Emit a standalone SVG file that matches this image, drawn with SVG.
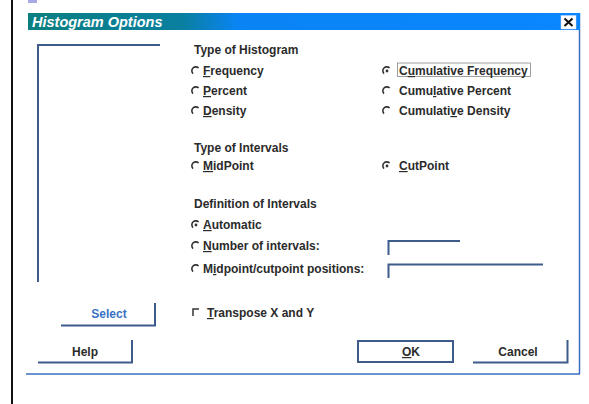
<svg xmlns="http://www.w3.org/2000/svg" width="589" height="404" viewBox="0 0 589 404">
<style>
.t{font-family:"Liberation Sans",Arial,sans-serif;font-size:12px;font-weight:bold;fill:#2b2b2b}
.u{text-decoration:underline}
.ln{stroke:#3d5c8c;stroke-width:2;fill:none}
.rb{stroke:#333;stroke-width:1.6;fill:none}
.dot{fill:#333}
</style>
<defs>
<linearGradient id="tb" x1="0" y1="0" x2="1" y2="0">
<stop offset="0" stop-color="#0b7f80"/>
<stop offset="0.28" stop-color="#0a7fa0"/>
<stop offset="0.38" stop-color="#0a84f4"/>
<stop offset="1" stop-color="#0a86ff"/>
</linearGradient>
<path id="radio" class="rb" d="M-3,2.6 A3.8,3.8 0 0 1 2.6,-3"/>
</defs>
<rect x="0" y="0" width="589" height="404" fill="#fff"/>
<g id="page">
<rect x="11" y="0" width="2" height="404" fill="#111"/>
<rect x="28" y="0" width="9" height="3" fill="#a9a9e6"/>
</g>
<g id="dialog">
<line x1="26" y1="374" x2="580" y2="374" stroke="#3a6ec0" stroke-width="1.5"/>
<line x1="579.5" y1="13" x2="579.5" y2="374" stroke="#3a6ec0" stroke-width="1.5"/>
</g>
<g id="titlebar">
<rect x="28" y="13" width="552" height="17" fill="url(#tb)"/>
<text x="32" y="27" font-family="Liberation Sans,Arial,sans-serif" font-size="14.5" font-weight="bold" font-style="italic" fill="#fff">Histogram Options</text>
</g>
<g id="close">
<rect x="561" y="15.5" width="15" height="13.5" fill="#fff" stroke="#c8d8f0" stroke-width="0.5"/>
<path d="M564.5,18.5 L572.5,26 M572.5,18.5 L564.5,26" stroke="#111" stroke-width="2"/>
</g>
<g id="connectors"/>
<g id="listbox">
<path class="ln" d="M38,282 V45 H160"/>
</g>
<g id="type-histogram">
<text class="t" x="194" y="54">Type of Histogram</text>
<use href="#radio" x="196" y="71"/>
<text class="t" x="203" y="75"><tspan class="u">F</tspan>requency</text>
<use href="#radio" x="196" y="91"/>
<text class="t" x="203" y="95"><tspan class="u">P</tspan>ercent</text>
<use href="#radio" x="196" y="111"/>
<text class="t" x="203" y="115"><tspan class="u">D</tspan>ensity</text>
<use href="#radio" x="387" y="71"/>
<circle class="dot" cx="387" cy="71" r="1.4"/>
<rect x="397.5" y="63" width="133" height="13.5" fill="none" stroke="#888" stroke-width="0.8"/>
<text class="t" x="399" y="75">C<tspan class="u">u</tspan>mulative Frequency</text>
<use href="#radio" x="387" y="91"/>
<text class="t" x="399" y="95">Cumu<tspan class="u">l</tspan>ative Percent</text>
<use href="#radio" x="387" y="111"/>
<text class="t" x="399" y="115">Cumulati<tspan class="u">v</tspan>e Density</text>
</g>
<g id="type-intervals">
<text class="t" x="194" y="152">Type of Intervals</text>
<use href="#radio" x="196" y="166"/>
<text class="t" x="203" y="170"><tspan class="u">M</tspan>idPoint</text>
<use href="#radio" x="387" y="166"/>
<circle class="dot" cx="387" cy="166" r="1.4"/>
<text class="t" x="399" y="170"><tspan class="u">C</tspan>utPoint</text>
</g>
<g id="definition-intervals">
<text class="t" x="194" y="208">Definition of Intervals</text>
<use href="#radio" x="196" y="225"/>
<circle class="dot" cx="196" cy="225" r="1.4"/>
<text class="t" x="203" y="229"><tspan class="u">A</tspan>utomatic</text>
<use href="#radio" x="196" y="246"/>
<text class="t" x="203" y="250"><tspan class="u">N</tspan>umber of intervals:</text>
<use href="#radio" x="196" y="269"/>
<text class="t" x="203" y="273">M<tspan class="u">i</tspan>dpoint/cutpoint positions:</text>
<path class="ln" d="M388.5,255 V241 H460"/>
<path class="ln" d="M388.5,278 V264.5 H543"/>
</g>
<g id="transpose">
<path d="M193,316 V309 H199" stroke="#333" stroke-width="1.5" fill="none"/>
<text class="t" x="207" y="317"><tspan class="u">T</tspan>ranspose X and Y</text>
</g>
<g id="btn-select">
<path class="ln" d="M61,325.5 H155 V303"/>
<text class="t" x="109" y="318" text-anchor="middle" style="fill:#3a72c4">Select</text>
</g>
<g id="btn-help">
<path class="ln" d="M38,362.5 H132 V340"/>
<text class="t" x="85" y="356" text-anchor="middle">Help</text>
</g>
<g id="btn-ok">
<rect x="358" y="341" width="95" height="21" fill="none" stroke="#3d5c8c" stroke-width="2"/>
<text class="t" x="411" y="356" text-anchor="middle"><tspan class="u">O</tspan>K</text>
</g>
<g id="btn-cancel">
<path class="ln" d="M473,362.5 H567.5 V340"/>
<text class="t" x="518" y="356" text-anchor="middle">Cancel</text>
</g>
</svg>
